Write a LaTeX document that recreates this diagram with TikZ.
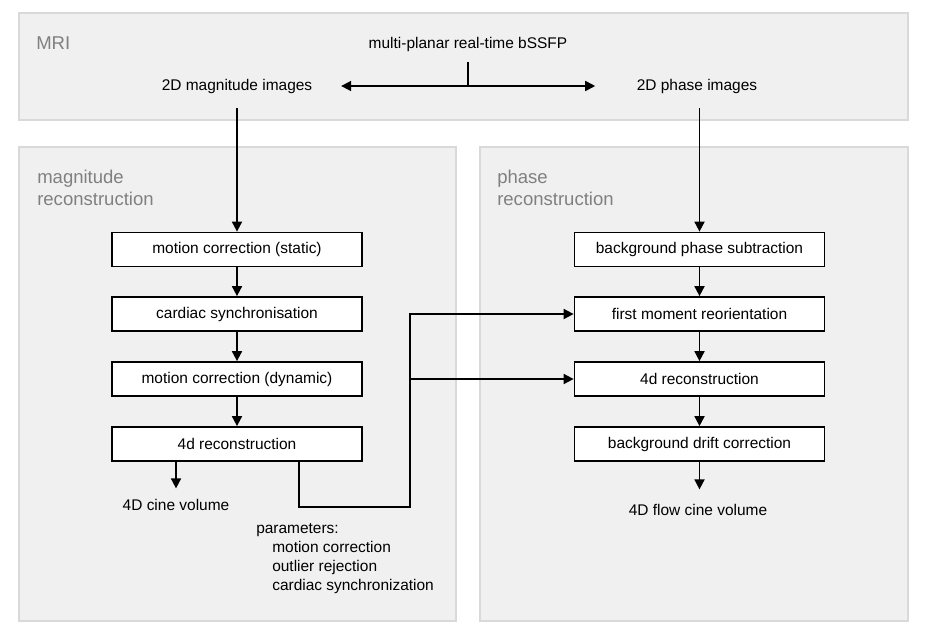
\documentclass[tikz,border=0pt]{standalone}
\usepackage{fontspec}
\setmainfont{Liberation Sans}
\usetikzlibrary{arrows.meta}
\tikzset{
  panel/.style={fill=black!6, draw=black!15, line width=1.5pt},
  paneltitle/.style={anchor=north west, align=left, text=black!50,
    font=\fontsize{13.9}{16.5}\selectfont, inner sep=0pt},
  txt/.style={font=\fontsize{11.6}{14.25}\selectfont, inner sep=0pt},
  stepbox/.style={txt, draw, line width=1.3pt, fill=white,
    minimum width=187.5pt, minimum height=25.5pt},
  flow/.style={line width=1.3pt, -{Triangle[length=7.5pt,width=7.5pt]}},
}
\begin{document}
\begin{tikzpicture}[x=0.75pt,y=-0.75pt]
    \useasboundingbox (0,0) rectangle (926,636);

    % panels
    \draw[panel] (19,13) rectangle (908,120);
    \draw[panel] (19,147) rectangle (456,621);
    \draw[panel] (480,147) rectangle (908,621);
    \node[paneltitle] (mri) at (36,36) {MRI};
    \node[paneltitle] (magtitle) at (37,170) {magnitude\\reconstruction};
    \node[paneltitle] (phstitle) at (497,170) {phase\\reconstruction};

    % acquisition
    \node[txt] (bssfp) at (468,44) {multi-planar real-time bSSFP};
    \node[txt] (mag) at (237,86) {2D magnitude images};
    \node[txt] (phase) at (697,86) {2D phase images};
    \coordinate (tee) at (468,87);
    \draw[line width=1.3pt] ([yshift=-8pt]bssfp.south) -- (tee);
    \draw[line width=1.3pt, {Triangle[length=7.5pt,width=7.5pt]}-{Triangle[length=7.5pt,width=7.5pt]}]
        ([xshift=21.5pt]mag.east) -- ([xshift=-31pt]phase.west);

    % magnitude chain
    \node[stepbox] (mstat) at (237,249.5) {motion correction (static)};
    \node[stepbox] (msync) at (237,314) {cardiac synchronisation};
    \node[stepbox] (mdyn) at (237,379) {motion correction (dynamic)};
    \node[stepbox] (mrec) at (237,444) {4d reconstruction};
    \node[txt] (cine) at (176,505) {4D cine volume};
    \node[txt, align=left, anchor=north west] (params) at (256,523)
        {parameters:\\\hspace*{12pt}motion correction\\\hspace*{12pt}outlier rejection\\\hspace*{12pt}cardiac synchronization};

    \draw[flow] ([yshift=-11pt]mag.south) -- (mstat);
    \draw[flow] (mstat) -- (msync);
    \draw[flow] (msync) -- (mdyn);
    \draw[flow] (mdyn) -- (mrec);
    \draw[flow] (cine.north |- mrec.south) -- ([yshift=8pt]cine.north);

    % phase chain
    \node[stepbox] (pbg) at (699.5,249.5) {background phase subtraction};
    \node[stepbox] (pfmr) at (699.5,314) {first moment reorientation};
    \node[stepbox] (prec) at (699.5,379) {4d reconstruction};
    \node[stepbox] (pdrift) at (699.5,444) {background drift correction};
    \node[txt] (flowcine) at (698,510) {4D flow cine volume};

    \draw[flow] ([yshift=-11pt]pbg.north |- phase.south) -- (pbg);
    \draw[flow] (pbg) -- (pfmr);
    \draw[flow] (pfmr) -- (prec);
    \draw[flow] (prec) -- (pdrift);
    \draw[flow] (pdrift) -- ([yshift=11pt]pdrift.south |- flowcine.north);

    % parameters passed over
    \coordinate (jog) at (410,507);
    \draw[flow] ([xshift=46.5pt]mrec.south) |- (jog) |- (pfmr.west);
    \draw[flow] (jog |- prec.west) -- (prec.west);
\end{tikzpicture}
\end{document}
